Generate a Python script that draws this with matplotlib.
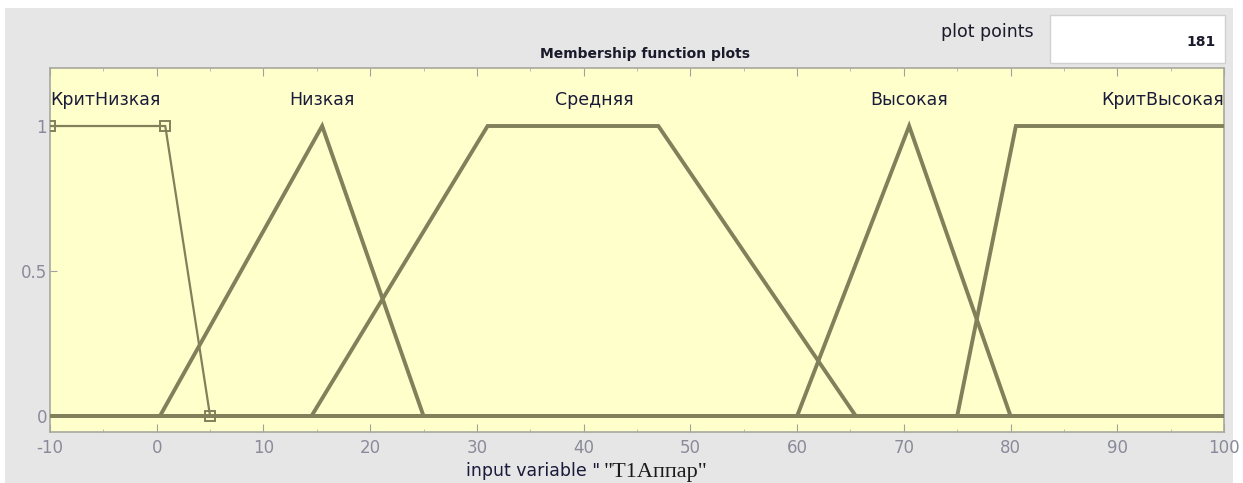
import matplotlib
matplotlib.use("Agg")
import matplotlib.pyplot as plt
from matplotlib.patches import Rectangle

plt.rcParams["axes.unicode_minus"] = False

# Membership functions (breakpoints)
mf_names = ["КритНизкая", "Низкая", "Средняя", "Высокая", "КритВысокая"]
mf_x = [
    [-10, 0.8, 5, 100],
    [-10, 0.3, 15.5, 25, 100],
    [-10, 14.5, 31, 47, 65.5, 100],
    [-10, 60, 70.5, 80, 100],
    [-10, 75, 80.5, 100],
]
mf_y = [
    [1, 1, 0, 0],
    [0, 0, 1, 0, 0],
    [0, 0, 1, 1, 0, 0],
    [0, 0, 1, 0, 0],
    [0, 0, 1, 1],
]
marker_x = [-10, 0.8, 5]
marker_y = [1, 1, 0]
label_x = [-10, 15.5, 41, 70.5, 100]
label_ha = ["left", "center", "center", "center", "right"]
xticks = [-10, 0, 10, 20, 30, 40, 50, 60, 70, 80, 90, 100]
yticks = [0, 0.5, 1]
ytick_labels = ["0", "0.5", "1"]
plot_points = "181"

W, H = 1243, 483
fig = plt.figure(figsize=(W / 100, H / 100), dpi=100)
fig.patch.set_facecolor("white")
fig.patches.append(Rectangle((5 / W, 0), 1228 / W, 1 - 8 / H, transform=fig.transFigure,
                             facecolor="#e6e6e6", edgecolor="none", zorder=-10))

left, right, top, bottom = 50, 1224, 68, 432
ax = fig.add_axes([left / W, 1 - bottom / H, (right - left) / W, (bottom - top) / H])
ax.set_facecolor("#ffffcc")

line_col = "#80805a"
for i, (xs, ys) in enumerate(zip(mf_x, mf_y)):
    lw = 1.6 if i == 0 else 2.8
    ax.plot(xs, ys, color=line_col, lw=lw, solid_joinstyle="miter", zorder=3)
ax.plot(marker_x, marker_y, ls="none", marker="s", ms=7, mfc="none", mec=line_col, mew=1.4, zorder=4)

for name, lx, ha in zip(mf_names, label_x, label_ha):
    ax.text(lx, 1.09, name, ha=ha, va="center", fontsize=12.5, color="#1a1a3a")

ax.set_xlim(-10, 100)
ax.set_ylim(-0.055, 1.2)
ax.set_xticks(xticks)
ax.set_xticks(range(-5, 100, 10), minor=True)
ax.set_yticks(yticks)
ax.set_yticklabels(ytick_labels)
ax.tick_params(axis="x", which="major", direction="in", length=6, top=True, colors="#a0a0a0",
               labelcolor="#8a8a9a", labelsize=12, pad=5)
ax.tick_params(axis="x", which="minor", direction="in", length=2, top=True, colors="#b0b0b0")
ax.tick_params(axis="y", direction="in", length=5, colors="#a0a0a0", labelcolor="#8a8a9a",
               labelsize=12, pad=2)
for s in ax.spines.values():
    s.set_color("#a8a8a0")
    s.set_linewidth(1.2)

# Title
fig.text(645 / W, 1 - 54 / H, "Membership function plots", ha="center", va="center",
         fontsize=10, fontweight="bold", color="#1a1a2a")

# plot points box
fig.patches.append(Rectangle((1050 / W, 1 - 63 / H), 175 / W, 48 / H, transform=fig.transFigure,
                             facecolor="white", edgecolor="#d0d0d0", lw=1, zorder=1))
fig.text(1034 / W, 1 - 32 / H, "plot points", ha="right", va="center", fontsize=12.5, color="#1a1a2a")
fig.text(1216 / W, 1 - 42 / H, plot_points, ha="right", va="center", fontsize=10,
         fontweight="semibold", color="#1a1a2a")

# x label (mixed fonts)
fig.text(466 / W, 1 - 476 / H, 'input variable "', ha="left", va="baseline", fontsize=12.5,
         color="#1a1a3a")
fig.text(604 / W, 1 - 477 / H, '"T1Аппар"', ha="left", va="baseline", fontsize=16,
         family=["Liberation Serif", "DejaVu Serif"], color="#1a1a1a")

fig.savefig("out.png", dpi=100, facecolor=fig.get_facecolor())
